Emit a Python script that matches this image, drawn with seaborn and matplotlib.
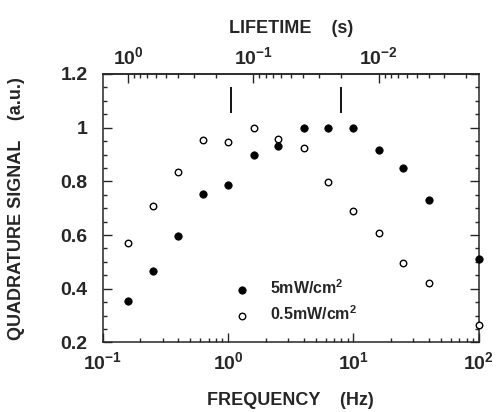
import numpy as np
import pandas as pd
import matplotlib
matplotlib.use('Agg')
import matplotlib.pyplot as plt
import seaborn as sns
from matplotlib.ticker import LogLocator, FixedLocator, MultipleLocator, FuncFormatter, NullFormatter

# data
freq = [0.16, 0.25, 0.4, 0.63, 1.0, 1.6, 2.5, 4.0, 6.3, 10.0, 16.0, 25.0, 40.0, 100.0]
sig_5mw = [0.356, 0.467, 0.595, 0.752, 0.786, 0.897, 0.931, 1.0, 1.0, 1.0, 0.918, 0.850, 0.730, 0.512]
sig_05mw = [0.571, 0.707, 0.835, 0.953, 0.946, 1.0, 0.956, 0.925, 0.796, 0.690, 0.606, 0.497, 0.420, 0.266]
labels = ['5mW/cm$^{2}$', '0.5mW/cm$^{2}$']
mark_tau = [0.15, 0.02]   # lifetimes marked with bars (s)
tau_ticks = [1.0, 0.1, 0.01]

df = pd.DataFrame({
    'freq': freq * 2,
    'signal': sig_5mw + sig_05mw,
    'power': [labels[0]] * len(freq) + [labels[1]] * len(freq),
})

sns.set_style('ticks')
plt.rcParams['font.family'] = ['Liberation Sans', 'DejaVu Sans']
plt.rcParams['font.weight'] = 'bold'
plt.rcParams['mathtext.fontset'] = 'custom'
plt.rcParams['mathtext.rm'] = 'Liberation Sans:bold'
plt.rcParams['mathtext.bf'] = 'Liberation Sans:bold'
plt.rcParams['mathtext.default'] = 'rm'

fig = plt.figure(figsize=(4.97, 4.12), dpi=100)
ax = fig.add_axes([0.2066, 0.169, 0.757, 0.6514])

sns.scatterplot(data=df[df['power'] == labels[0]], x='freq', y='signal', ax=ax,
                color='black', edgecolor='black', s=28, marker='o', linewidth=0.6,
                label=labels[0], clip_on=False, zorder=3)
sns.scatterplot(data=df[df['power'] == labels[1]], x='freq', y='signal', ax=ax,
                facecolor='white', edgecolor='black', s=22, marker='o', linewidth=1.0,
                label=labels[1], clip_on=False, zorder=3)

ax.set_xscale('log')
ax.set_xlim(0.1, 100)
ax.set_ylim(0.2, 1.2)

# vertical marks at selected lifetimes
mark_f = [1 / (2 * np.pi * t) for t in mark_tau]
ax.vlines(mark_f, 1.053, 1.15, color='black', linewidth=1.3)

def logfmt(v, pos):
    e = int(round(np.log10(v)))
    return '$\\mathrm{10^{%d}}$' % e

ax.xaxis.set_major_locator(LogLocator(base=10, numticks=10))
ax.xaxis.set_major_formatter(FuncFormatter(logfmt))
ax.xaxis.set_minor_formatter(NullFormatter())
ax.yaxis.set_major_locator(MultipleLocator(0.2))
ax.yaxis.set_minor_locator(MultipleLocator(0.05))
ax.yaxis.set_major_formatter(FuncFormatter(lambda v, p: ('%g' % round(v, 2))))

ax.tick_params(which='both', direction='in', top=False, right=True, width=1.0,
               labelsize=14)
ax.tick_params(which='major', length=6.5)
ax.tick_params(which='minor', length=3)
ax.tick_params(axis='y', which='major', pad=11)
ax.tick_params(axis='x', which='major', pad=6)
for sp in ax.spines.values():
    sp.set_linewidth(1.1)

ax.set_xlabel('FREQUENCY    (Hz)', fontsize=13, fontweight='bold')
ax.set_ylabel('QUADRATURE SIGNAL    (a.u.)', fontsize=13, fontweight='bold')
ax.xaxis.set_label_coords(0.5, -0.185)
ax.yaxis.set_label_coords(-0.206, 0.5)

# lifetime axis on top, tau = 1 / (2 pi f)
sec = ax.secondary_xaxis('top', functions=(lambda f: 1 / (2 * np.pi * f),
                                           lambda t: 1 / (2 * np.pi * t)))
sec.xaxis.set_major_locator(FixedLocator(tau_ticks))
sec.xaxis.set_minor_locator(LogLocator(base=10, subs=np.arange(2, 10), numticks=10))
sec.xaxis.set_major_formatter(FuncFormatter(logfmt))
sec.xaxis.set_minor_formatter(NullFormatter())
sec.tick_params(which='both', direction='in', width=1.0, labelsize=14)
sec.tick_params(which='major', length=6.5, pad=4)
sec.tick_params(which='minor', length=3)
sec.set_xlabel('LIFETIME    (s)', fontsize=13, fontweight='bold', labelpad=10)
sec.spines['top'].set_linewidth(1.1)

leg = ax.legend(loc='center left', bbox_to_anchor=(0.31, 0.155), frameon=False,
                handlelength=1.0, handletextpad=1.3, labelspacing=0.45, markerscale=1.0,
                prop={'weight': 'bold', 'size': 11.5})

fig.savefig('out.png', dpi=100)
